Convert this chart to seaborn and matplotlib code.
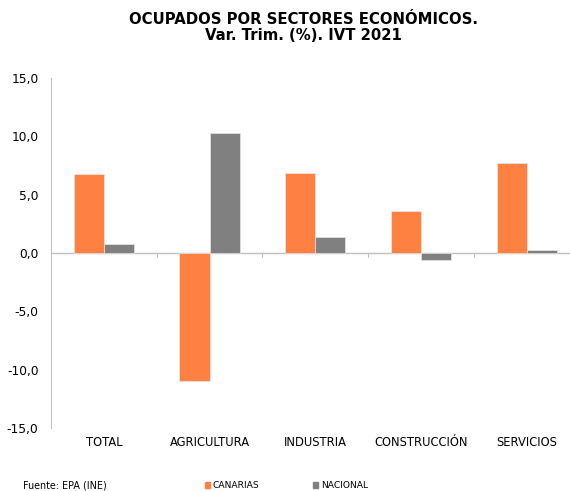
import matplotlib
matplotlib.use("Agg")
import matplotlib.pyplot as plt
from matplotlib.ticker import FuncFormatter, FixedLocator
import pandas as pd
import seaborn as sns

sectores = ["TOTAL", "AGRICULTURA", "INDUSTRIA", "CONSTRUCCIÓN", "SERVICIOS"]
canarias = [6.8, -11.0, 6.9, 3.6, 7.7]
nacional = [0.8, 10.3, 1.4, -0.6, 0.3]
series = ["CANARIAS", "NACIONAL"]
colores = ["#FF8142", "#808080"]

rows = []
for s, c, n in zip(sectores, canarias, nacional):
    rows.append([s, "CANARIAS", c])
    rows.append([s, "NACIONAL", n])
df = pd.DataFrame(rows, columns=["Sector", "Serie", "Var"])

sns.set_style("white")
plt.rcParams["font.family"] = ["DejaVu Sans"]
plt.rcParams["text.color"] = "black"
plt.rcParams["xtick.color"] = "black"
plt.rcParams["ytick.color"] = "black"

fig = plt.figure(figsize=(5.70, 4.91), dpi=100)
ax = fig.add_axes([51 / 570, 63 / 491, 528.5 / 570, 350 / 491])

sns.barplot(data=df, x="Sector", y="Var", hue="Serie", hue_order=series,
            palette=colores, width=0.57, saturation=1, ax=ax,
            edgecolor="#e6e6e6", linewidth=0.5, legend=False)

ax.set_ylim(-15, 15)
ax.set_xlim(-0.5, 4.5)
ax.yaxis.set_major_locator(FixedLocator([-15, -10, -5, 0, 5, 10, 15]))
ax.yaxis.set_major_formatter(FuncFormatter(lambda v, p: f"{v:.1f}".replace(".", ",")))
ax.set_xlabel("")
ax.set_ylabel("")

for side in ["top", "right", "bottom"]:
    ax.spines[side].set_visible(False)
ax.spines["left"].set_color("#c0c0c0")
ax.spines["left"].set_linewidth(0.8)
ax.axhline(0, color="#c0c0c0", linewidth=1.0, zorder=0.5)

# little ticks between categories on the zero line
for b in [0.5, 1.5, 2.5, 3.5]:
    ax.plot([b, b], [0, -0.35], color="#c0c0c0", linewidth=0.8, clip_on=False)

ax.tick_params(axis="y", length=3, width=0.8, color="#c0c0c0", labelcolor="black",
               labelsize=8.8, pad=6)
ax.tick_params(axis="x", length=0, labelsize=8.3, labelcolor="black", pad=6)

fig.text(0.532, 1 - 27.5 / 491, "OCUPADOS POR SECTORES ECONÓMICOS.\nVar. Trim. (%). IVT 2021",
         ha="center", va="center", fontsize=10.7, fontweight="bold", linespacing=1.05)

fig.text(23 / 570, 1 - 486 / 491, "Fuente: EPA (INE)", ha="left", va="center", fontsize=6.9)
handles = [plt.Rectangle((0, 0), 1, 1, color=c) for c in colores]
fig.legend(handles, series, loc="center left", bbox_to_anchor=(200 / 570, 1 - 486 / 491),
           ncol=2, frameon=False, fontsize=6.6, handlelength=0.6, handleheight=0.6,
           handletextpad=0.3, columnspacing=5.8, borderpad=0)

fig.savefig("out.png", dpi=100)
